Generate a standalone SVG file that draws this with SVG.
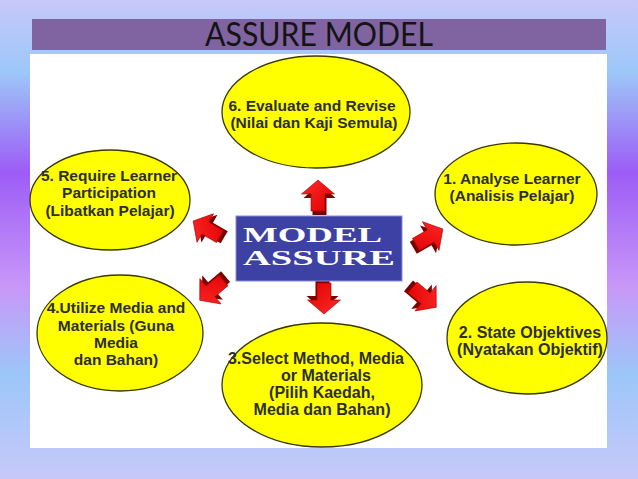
<svg xmlns="http://www.w3.org/2000/svg" xmlns:xlink="http://www.w3.org/1999/xlink" width="638" height="479" viewBox="0 0 638 479">
<style>
.ell{fill:#ffff00;stroke:#3a3a00;stroke-width:1.3}
.lbl{font-family:"Liberation Sans",Arial,sans-serif;font-weight:bold;fill:#2e2e2e;text-anchor:middle}
.ttl{font-family:Lato,"Liberation Sans",sans-serif;font-size:32px;fill:#141414;text-anchor:middle}
.ctr{font-family:"Liberation Serif","DejaVu Serif",serif;font-weight:bold;font-size:21px;fill:#ffffff}
</style>
<defs>
<linearGradient id="bg" x1="0" y1="0" x2="0" y2="1">
<stop offset="0" stop-color="#c7c8fa"/>
<stop offset="0.15" stop-color="#9cc8f8"/>
<stop offset="0.36" stop-color="#9d5cf6"/>
<stop offset="0.6" stop-color="#c898f8"/>
<stop offset="0.78" stop-color="#9cc6f8"/>
<stop offset="1" stop-color="#c7c8fa"/>
</linearGradient>
<linearGradient id="red" x1="0" y1="0" x2="1" y2="1">
<stop offset="0" stop-color="#ff2a2a"/>
<stop offset="1" stop-color="#e00000"/>
</linearGradient>
<g id="arr">
<polygon points="1.5,-12 17.5,2 8.5,2 8.5,19 -5.5,19 -5.5,2 -14.5,2" fill="#7a0000"/>
<polygon points="0,-16 16.5,-2 7,-2 7,15 -7,15 -7,-2 -16.5,-2" fill="url(#red)" stroke="#a00000" stroke-width="0.6"/>
</g>
</defs>
<rect x="0" y="0" width="638" height="479" fill="url(#bg)"/>
<rect x="30" y="54" width="577" height="394" fill="#ffffff"/>
<g id="title">
<rect x="32" y="19" width="574" height="31" fill="#8064a2"/>
<text class="ttl" x="319" y="46" textLength="228" lengthAdjust="spacingAndGlyphs">ASSURE MODEL</text>
</g>
<g id="connectors">
<use xlink:href="#arr" transform="translate(318,196)"/>
<use xlink:href="#arr" transform="translate(324,298) rotate(180)"/>
<use xlink:href="#arr" transform="translate(207,229) rotate(-60)"/>
<use xlink:href="#arr" transform="translate(212,290) rotate(-130)"/>
<use xlink:href="#arr" transform="translate(429,237) rotate(60)"/>
<use xlink:href="#arr" transform="translate(424,297) rotate(130)"/>
</g>
<g id="center">
<rect x="236" y="216" width="166" height="65" fill="#3c41a3" stroke="#8c8cd0" stroke-width="1"/>
<text class="ctr" x="243" y="242" textLength="139" lengthAdjust="spacingAndGlyphs">MODEL</text>
<text class="ctr" x="243" y="265" textLength="152" lengthAdjust="spacingAndGlyphs">ASSURE</text>
</g>
<g id="node6">
<ellipse class="ell" cx="316" cy="112" rx="94" ry="56"/>
<text class="lbl" font-size="15.5" x="312" y="111">6. Evaluate and Revise</text>
<text class="lbl" font-size="15.5" x="314" y="128">(Nilai dan Kaji Semula)</text>
</g>
<g id="node5">
<ellipse class="ell" cx="110" cy="200" rx="80" ry="50"/>
<text class="lbl" font-size="15.5" x="109" y="181">5. Require Learner</text>
<text class="lbl" font-size="15.5" x="109" y="198">Participation</text>
<text class="lbl" font-size="15.5" x="110" y="216">(Libatkan Pelajar)</text>
</g>
<g id="node1">
<ellipse class="ell" cx="516" cy="194" rx="81" ry="51"/>
<text class="lbl" font-size="15.5" x="512" y="184">1. Analyse Learner</text>
<text class="lbl" font-size="15.5" x="512" y="201">(Analisis Pelajar)</text>
</g>
<g id="node4">
<ellipse class="ell" cx="120" cy="333" rx="83" ry="58"/>
<text class="lbl" font-size="15.5" x="116" y="313">4.Utilize Media and</text>
<text class="lbl" font-size="15.5" x="116" y="331">Materials (Guna</text>
<text class="lbl" font-size="15.5" x="116" y="348">Media</text>
<text class="lbl" font-size="15.5" x="116" y="365">dan Bahan)</text>
</g>
<g id="node2">
<ellipse class="ell" cx="527" cy="338" rx="80" ry="56"/>
<text class="lbl" font-size="16" x="530" y="338">2. State Objektives</text>
<text class="lbl" font-size="16" x="530" y="355">(Nyatakan Objektif)</text>
</g>
<g id="node3">
<ellipse class="ell" cx="322" cy="385" rx="100" ry="62"/>
<text class="lbl" font-size="16" x="316" y="364">3.Select Method, Media</text>
<text class="lbl" font-size="16" x="326" y="381">or Materials</text>
<text class="lbl" font-size="16" x="322" y="398">(Pilih Kaedah,</text>
<text class="lbl" font-size="16" x="322" y="415">Media dan Bahan)</text>
</g>
</svg>
